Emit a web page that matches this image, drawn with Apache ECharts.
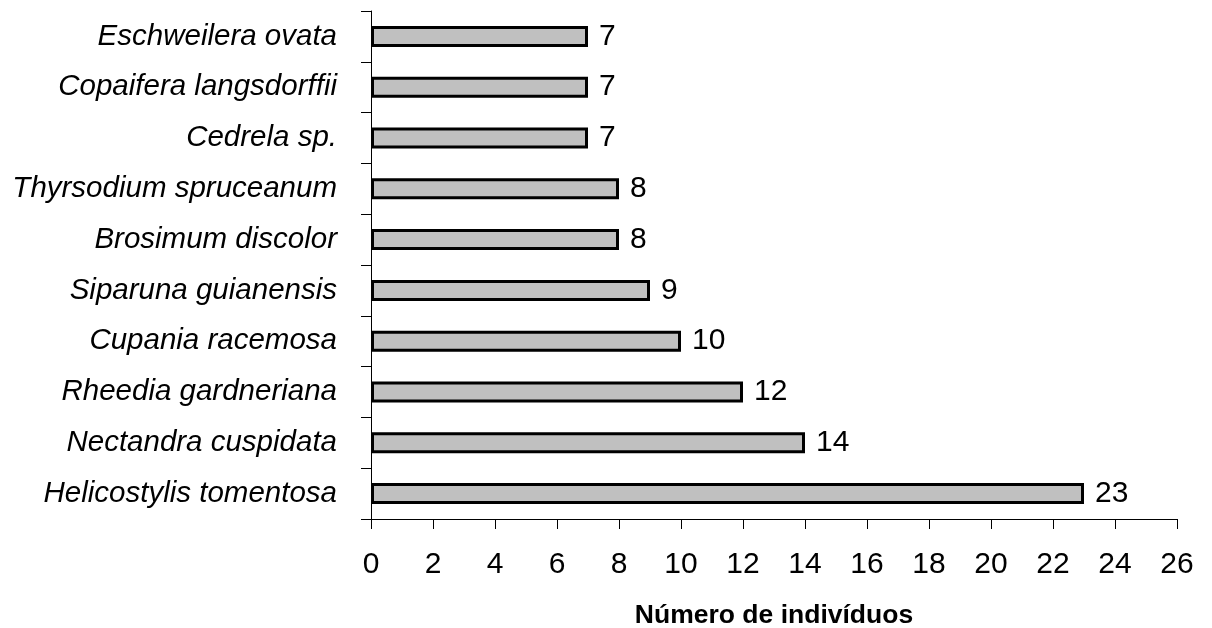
<!DOCTYPE html>
<html><head><meta charset="utf-8">
<script src="https://cdn.jsdelivr.net/npm/echarts@6/dist/echarts.min.js"></script>
<style>html,body{margin:0;padding:0;background:#fff}#c{width:1212px;height:628px}</style>
</head><body><div id="c"></div>
<script>
const species = ["Helicostylis tomentosa","Nectandra cuspidata","Rheedia gardneriana","Cupania racemosa","Siparuna guianensis","Brosimum discolor","Thyrsodium spruceanum","Cedrela sp.","Copaifera langsdorffii","Eschweilera ovata"];
const counts = [23,14,12,10,9,8,8,7,7,7];
const xTicks = {min:0,max:26,interval:2};
const xName = "Número de indivíduos";

const chart = echarts.init(document.getElementById('c'));
chart.setOption({
  animation:false,
  backgroundColor:'#fff',
  grid:{left:371,right:35,top:11,bottom:109,containLabel:false,outerBoundsMode:'none'},
  xAxis:{type:'value',min:xTicks.min,max:xTicks.max,interval:xTicks.interval,
    name:xName,nameLocation:'middle',nameGap:83,
    nameTextStyle:{fontFamily:'Liberation Sans',fontWeight:'bold',fontSize:26.5,color:'#000'},
    axisLine:{show:true,lineStyle:{color:'#000',width:1}},
    axisTick:{show:true,length:10,inside:false,lineStyle:{color:'#000',width:1}},
    axisLabel:{fontFamily:'Liberation Sans',fontSize:30,color:'#000',margin:31},
    splitLine:{show:false}},
  yAxis:{type:'category',data:species,boundaryGap:true,
    axisLine:{show:true,lineStyle:{color:'#000',width:1}},
    axisTick:{show:true,length:10,alignWithLabel:false,lineStyle:{color:'#000',width:1}},
    axisLabel:{fontFamily:'Liberation Sans',fontStyle:'italic',fontSize:29.5,color:'#000',margin:34}},
  series:[{type:'bar',data:counts,barWidth:21,
    itemStyle:{color:'#C0C0C0',borderColor:'#000',borderWidth:3},
    label:{show:true,position:'right',distance:11,fontFamily:'Liberation Sans',fontSize:30,color:'#000'}}]
});
</script></body></html>
